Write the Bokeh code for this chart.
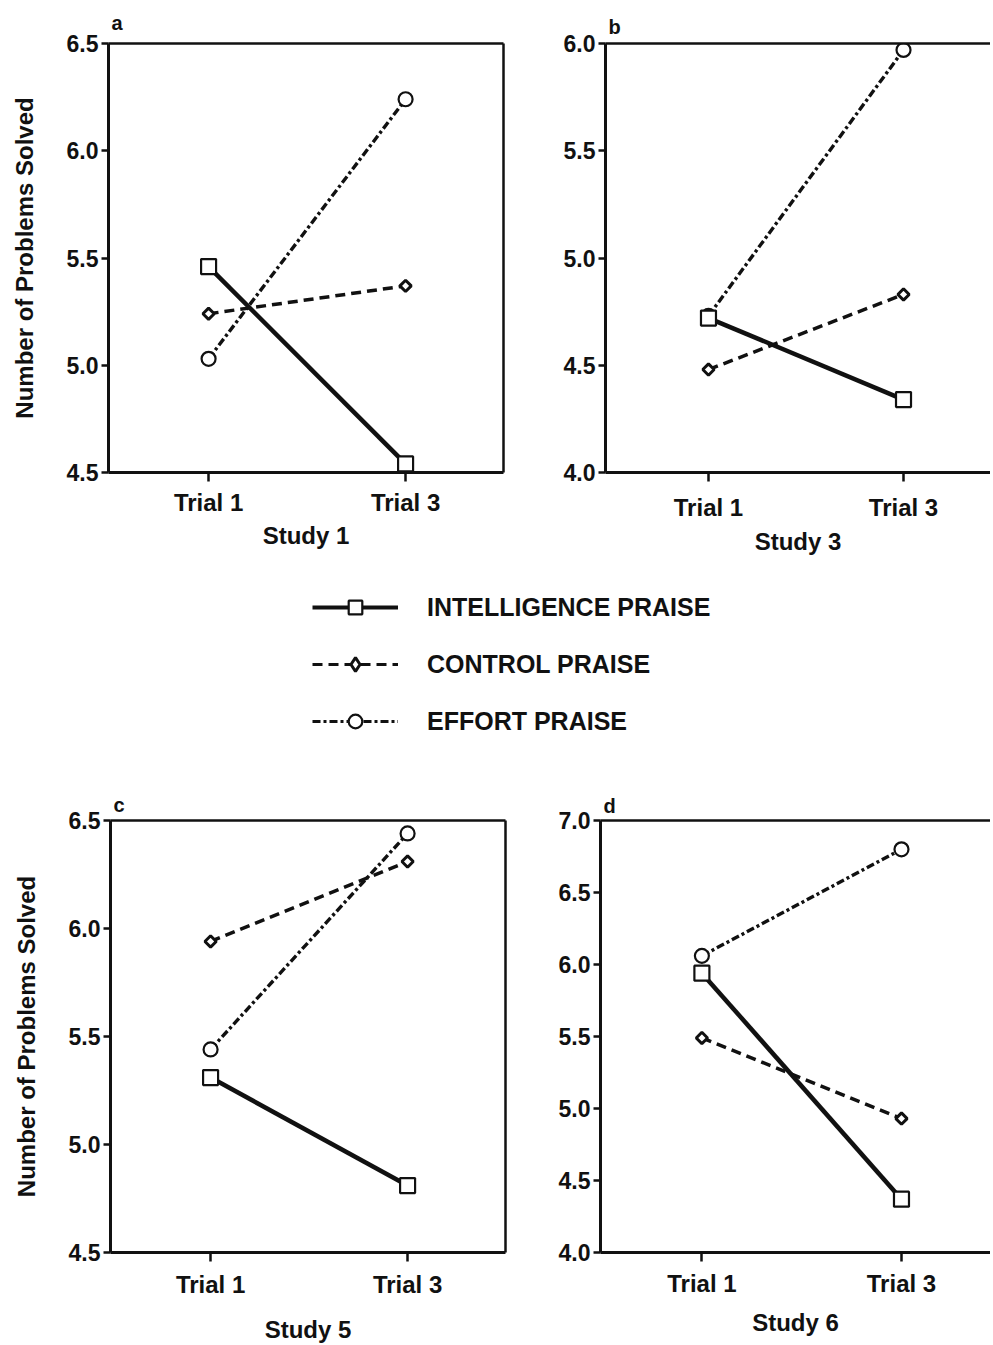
import math
from bokeh.plotting import figure
from bokeh.models import Range1d, FixedTicker, LinearAxis, PrintfTickFormatter, ColumnDataSource, Legend, LegendItem
from bokeh.layouts import column, row
from bokeh.embed import file_html
from bokeh.resources import INLINE

# ---------------- data ----------------
trials = ["Trial 1", "Trial 3"]
groups = ["INTELLIGENCE PRAISE", "CONTROL PRAISE", "EFFORT PRAISE"]

study1_intelligence = [5.46, 4.54]
study1_control = [5.24, 5.37]
study1_effort = [5.03, 6.24]

study3_intelligence = [4.72, 4.34]
study3_control = [4.48, 4.83]
study3_effort = [4.73, 5.97]

study5_intelligence = [5.31, 4.81]
study5_control = [5.94, 6.31]
study5_effort = [5.44, 6.44]

study6_intelligence = [5.94, 4.37]
study6_control = [5.49, 4.93]
study6_effort = [6.06, 6.80]

yticks_a = [4.5, 5.0, 5.5, 6.0, 6.5]
yticks_b = [4.0, 4.5, 5.0, 5.5, 6.0]
yticks_c = [4.5, 5.0, 5.5, 6.0, 6.5]
yticks_d = [4.0, 4.5, 5.0, 5.5, 6.0, 6.5, 7.0]

# ---------------- styles ----------------
FONT = "Liberation Sans"
WEIGHT = "bold"
INK = "#111111"
STYLE = {
    "INTELLIGENCE PRAISE": dict(dash="solid", lw=4.5, marker="square", size=15, mlw=2.2,
                                angle=0.0, leg_marker="square"),
    "CONTROL PRAISE": dict(dash="10 6", lw=3.5, marker="square", size=8, mlw=3,
                           angle=math.pi / 4, leg_marker="diamond"),
    "EFFORT PRAISE": dict(dash="8 3 3 3", lw=3.4, marker="circle", size=14, mlw=2.2,
                          angle=0.0, leg_marker="circle"),
}

xs = [i + 1 for i in range(len(trials))]


def make_panel(letter, study, series, yticks, x_start, x_end, width, height,
               mb_left, mb_right, mb_top, mb_bottom, ylabel, right_border,
               tick_standoff, xlabel_standoff, title_standoff):
    p = figure(width=width, height=height,
               x_range=Range1d(x_start, x_end),
               y_range=Range1d(yticks[0], yticks[-1]),
               output_backend="svg", toolbar_location=None,
               min_border_left=mb_left, min_border_right=mb_right,
               min_border_top=mb_top, min_border_bottom=mb_bottom)
    p.outline_line_color = None
    p.grid.visible = False
    p.background_fill_color = "white"
    p.border_fill_color = "white"

    p.title.text = letter
    p.title.align = "left"
    p.title.offset = 3
    p.title.text_font = FONT
    p.title.text_font_size = "20px"
    p.title.text_font_style = WEIGHT
    p.title.text_color = INK
    p.title.standoff = title_standoff

    # x axis
    xa = p.xaxis[0]
    xa.ticker = FixedTicker(ticks=xs)
    xa.major_label_overrides = {x: t for x, t in zip(xs, trials)}
    xa.axis_label = study
    xa.axis_label_text_font = FONT
    xa.axis_label_text_font_size = "24px"
    xa.axis_label_text_font_style = WEIGHT
    xa.axis_label_text_color = INK
    xa.axis_label_standoff = xlabel_standoff
    xa.major_label_text_font = FONT
    xa.major_label_text_font_size = "24px"
    xa.major_label_text_font_style = WEIGHT
    xa.major_label_text_color = INK
    xa.major_label_standoff = tick_standoff
    xa.major_tick_out = 9
    xa.major_tick_in = 0
    xa.minor_tick_line_color = None
    xa.axis_line_width = 3
    xa.axis_line_color = INK
    xa.major_tick_line_width = 2.5
    xa.major_tick_line_color = INK

    # y axis
    ya = p.yaxis[0]
    ya.ticker = FixedTicker(ticks=yticks)
    ya.formatter = PrintfTickFormatter(format="%.1f")
    ya.major_label_text_font = FONT
    ya.major_label_text_font_size = "23px"
    ya.major_label_text_font_style = WEIGHT
    ya.major_label_text_color = INK
    ya.major_label_standoff = 3
    ya.major_tick_out = 7
    ya.major_tick_in = 0
    ya.minor_tick_line_color = None
    ya.axis_line_width = 3
    ya.axis_line_color = INK
    ya.major_tick_line_width = 2.5
    ya.major_tick_line_color = INK
    if ylabel:
        ya.axis_label = "Number of Problems Solved"
        ya.axis_label_text_font = FONT
        ya.axis_label_text_font_size = "24px"
        ya.axis_label_text_font_style = WEIGHT
        ya.axis_label_text_color = INK
        ya.axis_label_standoff = 26

    # frame border lines (top, and right where visible)
    top = LinearAxis(ticker=FixedTicker(ticks=[]), axis_line_width=2.5,
                     axis_line_color=INK, major_label_text_font_size="0px",
                     major_tick_line_color=None, minor_tick_line_color=None)
    p.add_layout(top, "above")
    if right_border:
        rgt = LinearAxis(ticker=FixedTicker(ticks=[]), axis_line_width=2.5,
                         axis_line_color=INK, major_label_text_font_size="0px",
                         major_tick_line_color=None, minor_tick_line_color=None)
        p.add_layout(rgt, "right")

    order = ["EFFORT PRAISE", "CONTROL PRAISE", "INTELLIGENCE PRAISE"]
    for g in order:
        st = STYLE[g]
        src = ColumnDataSource(dict(x=xs, y=series[g]))
        p.line("x", "y", source=src, line_color=INK, line_width=st["lw"],
               line_dash=st["dash"])
        p.scatter("x", "y", source=src, marker=st["marker"], size=st["size"],
                  angle=st["angle"], fill_color="white", line_color=INK,
                  line_width=st["mlw"])
    return p


pa = make_panel("a", "Study 1",
                {"INTELLIGENCE PRAISE": study1_intelligence,
                 "CONTROL PRAISE": study1_control,
                 "EFFORT PRAISE": study1_effort},
                yticks_a, 0.492, 2.497, 553, 560, 108, 50, 43, 88,
                True, True, 7, 3, 19)
pb = make_panel("b", "Study 3",
                {"INTELLIGENCE PRAISE": study3_intelligence,
                 "CONTROL PRAISE": study3_control,
                 "EFFORT PRAISE": study3_effort},
                yticks_b, 0.472, 2.446, 437, 560, 52, 0, 43, 86,
                False, False, 12, 4, 11)
pc = make_panel("c", "Study 5",
                {"INTELLIGENCE PRAISE": study5_intelligence,
                 "CONTROL PRAISE": study5_control,
                 "EFFORT PRAISE": study5_effort},
                yticks_c, 0.492, 2.497, 553, 565, 110, 48, 38, 90,
                True, True, 9, 15, 10)
pd_ = make_panel("d", "Study 6",
                 {"INTELLIGENCE PRAISE": study6_intelligence,
                  "CONTROL PRAISE": study6_control,
                  "EFFORT PRAISE": study6_effort},
                 yticks_d, 0.492, 2.446, 437, 565, 47, 0, 40, 90,
                 False, False, 8, 9, 7)

# ---------------- legend strip ----------------
pl = figure(width=990, height=220, x_range=Range1d(0, 0.5), y_range=Range1d(0, 1),
            output_backend="svg", toolbar_location=None,
            min_border_left=0, min_border_right=0, min_border_top=0, min_border_bottom=0)
pl.axis.visible = False
pl.grid.visible = False
pl.outline_line_color = None

legend_series = [study1_intelligence, study1_control, study1_effort]
items = []
for g, vals in zip(groups, legend_series):
    st = STYLE[g]
    # real values lie outside this strip's view; only the legend samples show
    src = ColumnDataSource(dict(x=xs, y=vals))
    lr = pl.line("x", "y", source=src, line_color=INK, line_width=st["lw"] - 0.5,
                 line_dash=st["dash"])
    sr = pl.scatter("x", "y", source=src, marker=st["leg_marker"], size=st["size"],
                    fill_color="white", line_color=INK, line_width=st["mlw"])
    items.append(LegendItem(label=g, renderers=[lr, sr]))

leg = Legend(items=items, location=(312, 42), orientation="vertical",
             glyph_width=86, glyph_height=34, label_standoff=29, spacing=23,
             padding=0, margin=0, border_line_color=None,
             background_fill_alpha=0, label_text_font=FONT,
             label_text_font_style=WEIGHT,
             label_text_font_size="25px", label_text_color=INK,
             label_height=34)
pl.add_layout(leg, "center")

layout = column(row(pa, pb, spacing=0), pl, row(pc, pd_, spacing=0), spacing=0)

open("out.html", "w").write(file_html(layout, INLINE))
